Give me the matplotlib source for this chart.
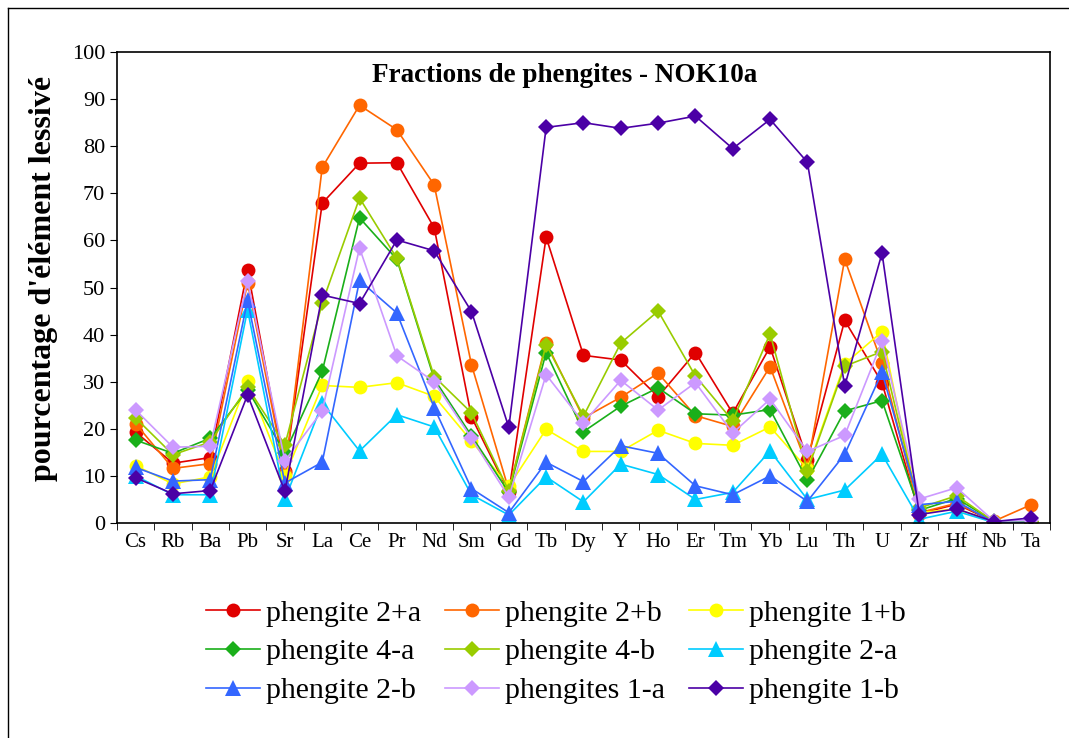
import matplotlib
matplotlib.use("Agg")
import matplotlib.pyplot as plt
from matplotlib.lines import Line2D

elements = ["Cs", "Rb", "Ba", "Pb", "Sr", "La", "Ce", "Pr", "Nd", "Sm", "Gd", "Tb", "Dy",
            "Y", "Ho", "Er", "Tm", "Yb", "Lu", "Th", "U", "Zr", "Hf", "Nb", "Ta"]

ph_2a_plus = [19.3, 12.7, 13.9, 53.8, 11.0, 67.9, 76.4, 76.5, 62.7, 22.5, 6.5, 60.7, 35.6,
              34.6, 26.8, 36.2, 23.3, 37.4, 13.4, 43.0, 29.8, 2.0, 4.0, 0.3, 0.3]
ph_2b_plus = [21.1, 11.6, 12.6, 51.0, 10.7, 75.5, 88.7, 83.5, 71.8, 33.6, 7.0, 38.3, 22.3,
              26.7, 31.8, 22.8, 20.5, 33.2, 12.0, 56.0, 33.9, 2.2, 4.2, 0.4, 3.9]
ph_1b_plus = [12.2, 8.3, 9.8, 30.1, 10.0, 29.2, 28.8, 29.8, 26.9, 17.4, 7.8, 19.9, 15.2,
              15.2, 19.7, 16.9, 16.5, 20.4, 11.5, 33.8, 40.6, 2.2, 3.0, 0.3, 0.2]
ph_4a = [17.6, 14.8, 18.0, 28.3, 14.9, 32.2, 64.8, 56.0, 30.6, 18.5, 6.5, 36.2, 19.4,
         24.8, 28.7, 23.2, 22.9, 24.1, 9.1, 23.8, 26.0, 2.7, 5.2, 0.4, 0.3]
ph_4b = [22.3, 14.5, 17.2, 28.8, 16.6, 46.7, 69.0, 56.2, 31.1, 23.4, 6.8, 37.9, 22.7,
         38.2, 45.0, 31.2, 21.7, 40.2, 11.1, 33.3, 36.4, 3.2, 5.8, 0.3, 0.3]
ph_2a = [10.0, 6.0, 6.0, 45.3, 5.0, 25.4, 15.3, 23.0, 20.4, 6.0, 1.7, 9.8, 4.5,
         12.5, 10.3, 5.0, 6.5, 15.3, 5.0, 7.0, 14.6, 0.8, 2.5, 0.1, 0.1]
ph_2b = [11.8, 8.9, 9.2, 47.3, 8.5, 12.9, 51.5, 44.6, 24.5, 7.3, 2.2, 12.9, 8.8,
         16.4, 14.8, 7.9, 6.0, 10.0, 4.6, 14.6, 32.0, 3.9, 4.6, 0.1, 0.1]
ph_1a = [24.0, 16.1, 16.3, 51.4, 13.2, 23.8, 58.4, 35.5, 30.0, 18.0, 5.5, 31.5, 21.3,
         30.3, 24.0, 29.8, 19.1, 26.3, 15.2, 18.6, 38.6, 5.1, 7.5, 0.4, 0.6]
ph_1b = [9.6, 6.2, 6.9, 27.2, 6.7, 48.4, 46.6, 60.1, 57.8, 44.9, 20.3, 84.0, 85.0,
         83.8, 84.9, 86.4, 79.5, 85.7, 76.6, 29.1, 57.3, 1.8, 3.0, 0.3, 1.1]

series = [
    ("phengite 2+a", ph_2a_plus, "#e00000", "o"),
    ("phengite 2+b", ph_2b_plus, "#ff6600", "o"),
    ("phengite 1+b", ph_1b_plus, "#ffff00", "o"),
    ("phengite 4-a", ph_4a, "#1aaf1a", "D"),
    ("phengite 4-b", ph_4b, "#99cc00", "D"),
    ("phengite 2-a", ph_2a, "#00ccff", "^"),
    ("phengite 2-b", ph_2b, "#3366ff", "^"),
    ("phengites 1-a", ph_1a, "#cc99ff", "D"),
    ("phengite 1-b", ph_1b, "#4b00a6", "D"),
]

plt.rcParams["font.family"] = ["Liberation Serif", "DejaVu Serif"]

fig = plt.figure(figsize=(10.69, 7.38), dpi=100)
ax = fig.add_axes([0.1094, 0.2913, 0.8728, 0.6382])

x = list(range(len(elements)))
handles = []
for label, vals, color, mk in series:
    ms = 10 if mk == "o" else (11 if mk == "^" else 8.5)
    h, = ax.plot(x, vals, color=color, marker=mk, markersize=ms, lw=1.2,
                 markeredgewidth=0, label=label)
    handles.append(h)

ax.set_xlim(-0.5, len(elements) - 0.5)
ax.set_ylim(0, 100)
ax.set_yticks(range(0, 101, 10))
ax.set_xticks(x)
ax.set_xticklabels(elements)
ax.set_xticks([i - 0.5 for i in range(len(elements) + 1)], minor=True)
ax.tick_params(axis="x", which="major", length=0, labelsize=15, pad=7)
ax.tick_params(axis="x", which="minor", length=5, direction="out")
ax.tick_params(axis="y", length=5, direction="out", labelsize=16)
for s in ax.spines.values():
    s.set_color("black")
    s.set_linewidth(1.2)

ax.text(0.48, 0.951, "Fractions de phengites - NOK10a", transform=ax.transAxes,
        ha="center", va="center", fontsize=19.5, fontweight="bold")
ax.set_ylabel("pourcentage d'élément lessivé", fontsize=23, fontweight="bold")
ax.yaxis.set_label_coords(-0.063, 0.52)

order = [0, 3, 6, 1, 4, 7, 2, 5, 8]
fig.legend([handles[i] for i in order], [series[i][0] for i in order],
           loc="center", bbox_to_anchor=(0.52, 0.1165), ncol=3, frameon=False,
           fontsize=21.5, handlelength=1.8, handletextpad=0.2, columnspacing=0.8,
           labelspacing=0.4)

# outer chart border
fig.add_artist(Line2D([8 / 1069, 8 / 1069], [0, 1 - 8 / 738], color="black", lw=1,
                      transform=fig.transFigure))
fig.add_artist(Line2D([8 / 1069, 1], [1 - 8 / 738, 1 - 8 / 738], color="black", lw=1,
                      transform=fig.transFigure))

fig.savefig("out.png", dpi=100)
